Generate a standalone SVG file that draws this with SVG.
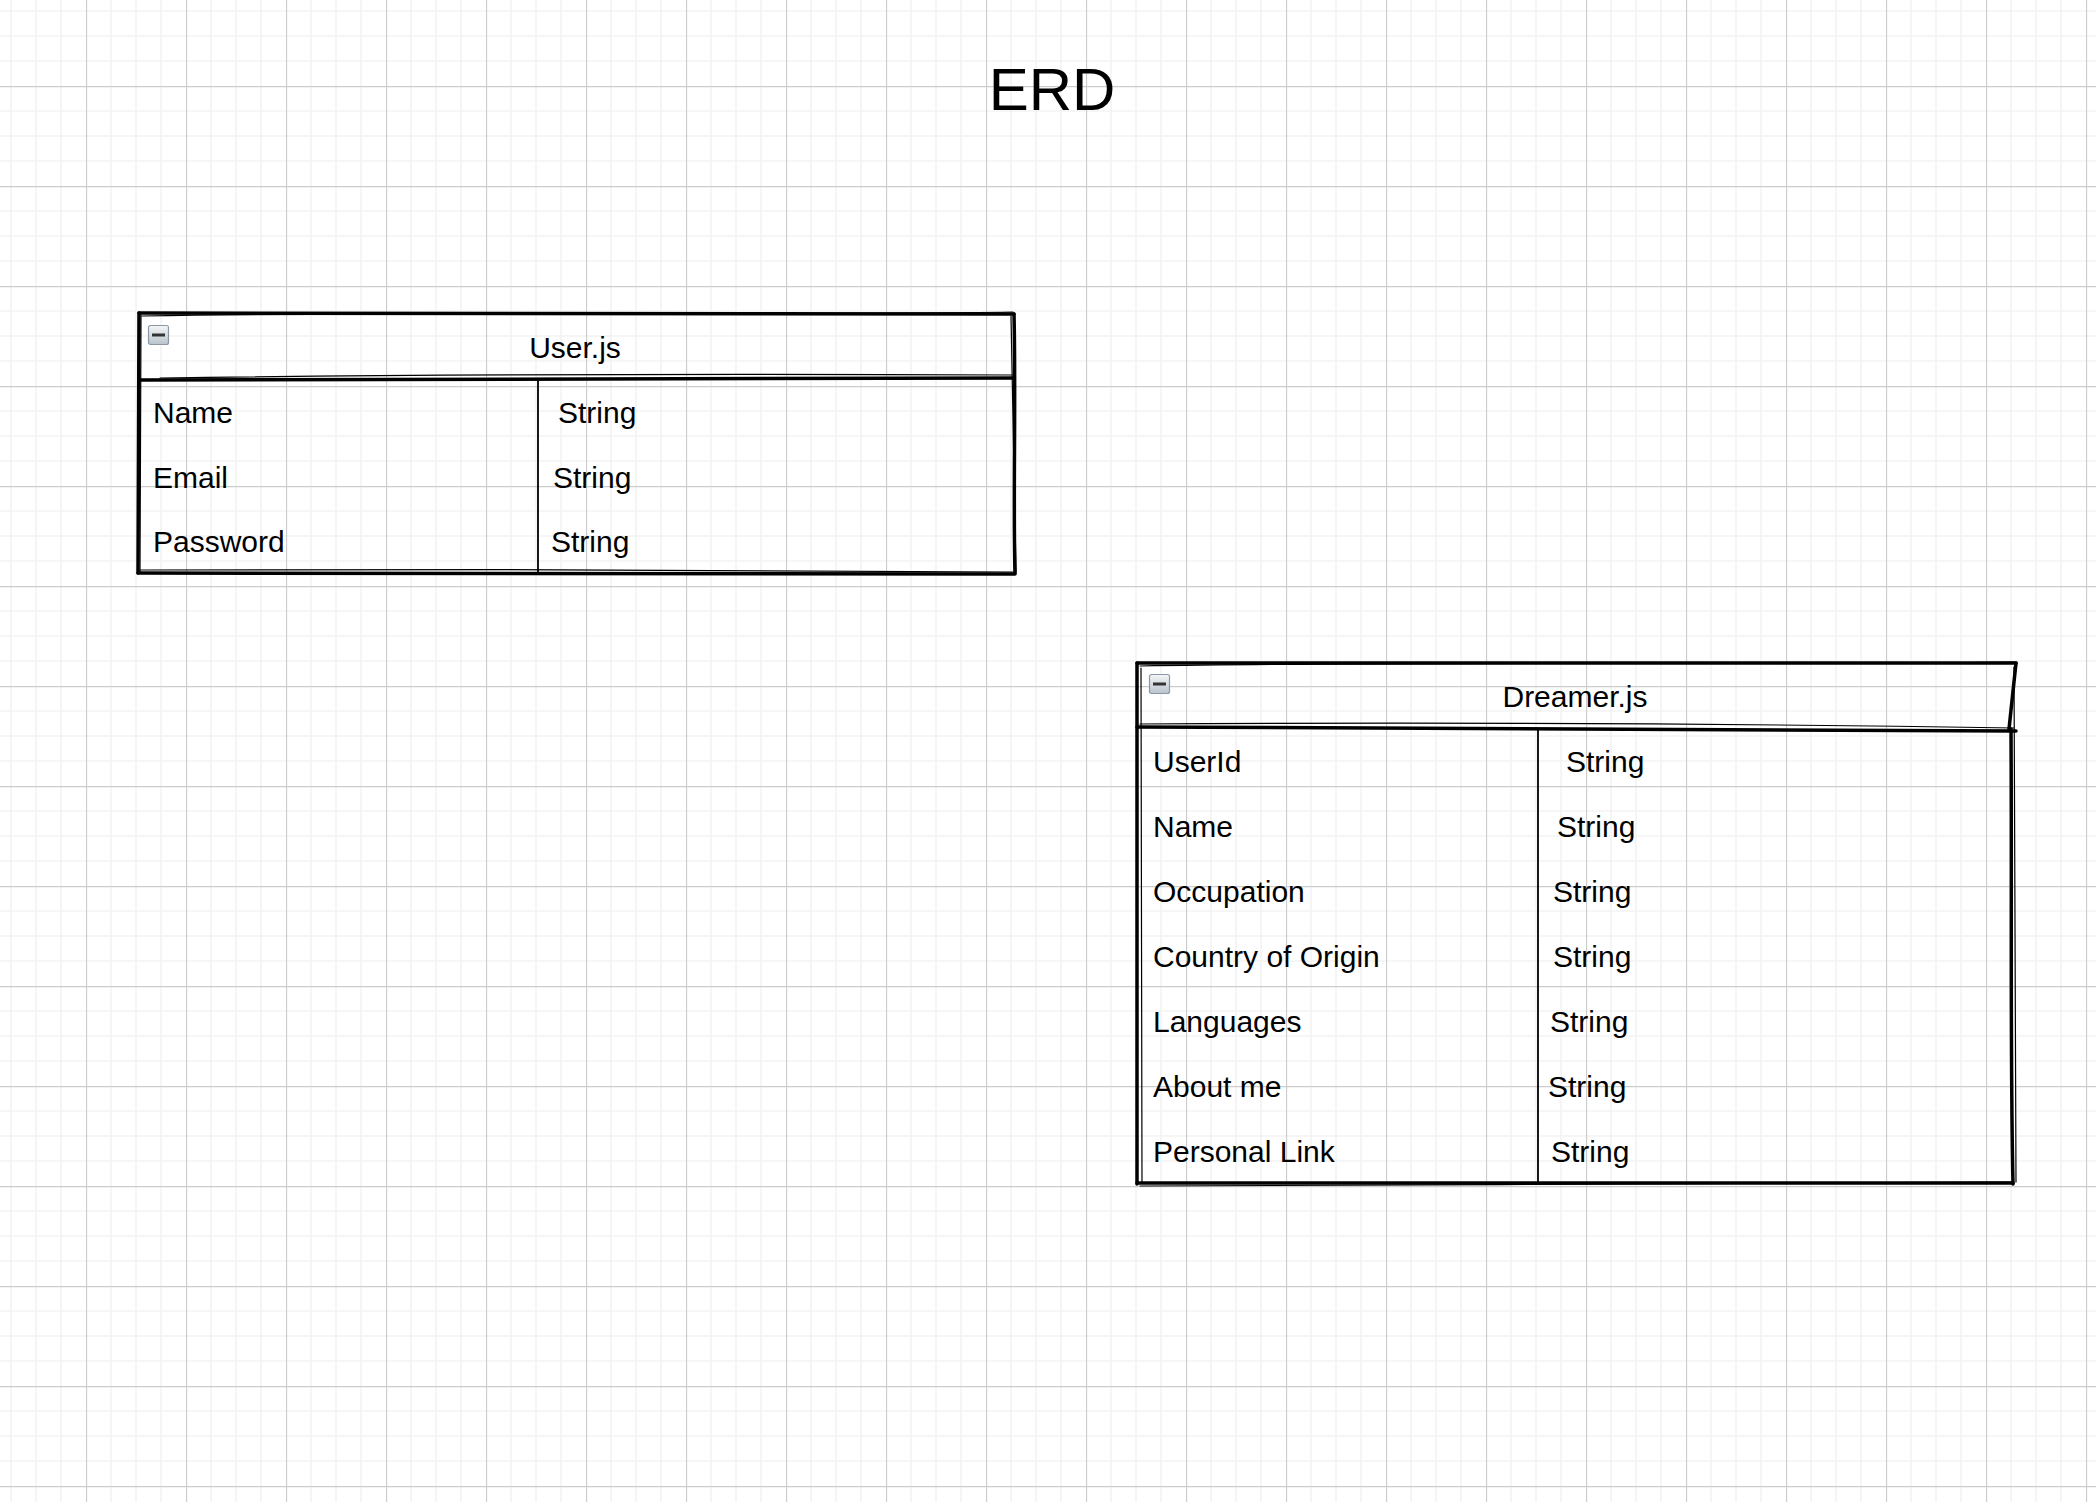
<svg xmlns="http://www.w3.org/2000/svg" width="2096" height="1502" viewBox="0 0 2096 1502">
<defs>
<pattern id="grid" x="-14" y="-14" width="100" height="100" patternUnits="userSpaceOnUse">
<path d="M25 0V100M50 0V100M75 0V100M0 25H100M0 50H100M0 75H100" stroke="#f3f3f3" stroke-width="1.6" fill="none"/>
<path d="M0.5 0V100M0 0.5H100" stroke="#cccccc" stroke-width="1.3" fill="none"/>
</pattern>
<linearGradient id="ig" x1="0" y1="0" x2="0" y2="1">
<stop offset="0" stop-color="#f4f6f8"/>
<stop offset="1" stop-color="#b9c3cc"/>
</linearGradient>
<g id="minus">
<rect x="0.5" y="0.5" width="20" height="19" rx="2" fill="url(#ig)" stroke="#8c99a5" stroke-width="1.2"/>
<rect x="4" y="8.5" width="13" height="3" fill="#333"/>
</g>
</defs>
<style>
.t{font-family:"Liberation Sans",Arial,Helvetica,sans-serif;font-size:30px;fill:#000}
.h{text-anchor:middle}
.b{fill:none;stroke:#000;stroke-linecap:round;stroke-linejoin:round}
.b3{stroke-width:3.5}
.b2{stroke-width:1.8}
.b1{stroke-width:1.2}
</style>
<rect width="2096" height="1502" fill="#fff"/>
<rect width="2096" height="1502" fill="url(#grid)"/>
<text class="t h" x="1052" y="110" style="font-size:60px">ERD</text>

<g id="user">
<path class="b b3" d="M139 313 C 400 312, 700 314, 1014 314"/>
<path class="b b1" d="M142 316 C 450 311, 760 316, 1013 312"/>
<path class="b b3" d="M139 313 L 138 573"/>
<path class="b b1" d="M141 315 L 140 572"/>
<path class="b b3" d="M1014 314 C 1016 400, 1013 500, 1015 573"/>
<path class="b b1" d="M1011 316 L 1016 572"/>
<path class="b b3" d="M138 573 C 400 572, 700 574, 1015 574"/>
<path class="b b1" d="M140 570 C 420 568, 760 571, 1013 572"/>
<path class="b b3" d="M139 380 C 400 378, 700 377, 1014 378"/>
<path class="b b1" d="M160 378 C 450 374, 760 374, 1012 375"/>
<path class="b b2" d="M538 380 L 538 573"/>
<use href="#minus" x="148" y="325"/>
<text class="t h" x="575" y="358">User.js</text>
<text class="t" x="153" y="423">Name</text>
<text class="t" x="558" y="423">String</text>
<text class="t" x="153" y="488">Email</text>
<text class="t" x="553" y="488">String</text>
<text class="t" x="153" y="552">Password</text>
<text class="t" x="551" y="552">String</text>
</g>

<g id="dreamer">
<path class="b b3" d="M1137 663 C 1400 662, 1700 663, 2016 663"/>
<path class="b b1" d="M1140 666 C 1450 661, 1760 665, 2014 662"/>
<path class="b b3" d="M1137 663 L 1137 1184"/>
<path class="b b1" d="M1141 668 L 1142 1182"/>
<path class="b b3" d="M2016 663 L 2009 729"/>
<path class="b b3" d="M2011 729 C 2012 900, 2010 1050, 2013 1184"/>
<path class="b b1" d="M2014 667 L 2016 1182"/>
<path class="b b3" d="M1137 727 C 1400 726, 1700 728, 2016 731"/>
<path class="b b1" d="M1140 724 C 1450 722, 1760 724, 2014 728"/>
<path class="b b3" d="M1137 1183 C 1400 1181, 1700 1182, 2013 1183"/>
<path class="b b1" d="M1140 1186 C 1420 1184, 1760 1185, 2012 1182"/>
<path class="b b2" d="M1538 729 L 1538 1183"/>
<use href="#minus" x="1149" y="674"/>
<text class="t h" x="1575" y="707">Dreamer.js</text>
<text class="t" x="1153" y="772">UserId</text>
<text class="t" x="1566" y="772">String</text>
<text class="t" x="1153" y="837">Name</text>
<text class="t" x="1557" y="837">String</text>
<text class="t" x="1153" y="902">Occupation</text>
<text class="t" x="1553" y="902">String</text>
<text class="t" x="1153" y="967">Country of Origin</text>
<text class="t" x="1553" y="967">String</text>
<text class="t" x="1153" y="1032">Languages</text>
<text class="t" x="1550" y="1032">String</text>
<text class="t" x="1153" y="1097">About me</text>
<text class="t" x="1548" y="1097">String</text>
<text class="t" x="1153" y="1162">Personal Link</text>
<text class="t" x="1551" y="1162">String</text>
</g>

<g id="connectors"></g>
</svg>
